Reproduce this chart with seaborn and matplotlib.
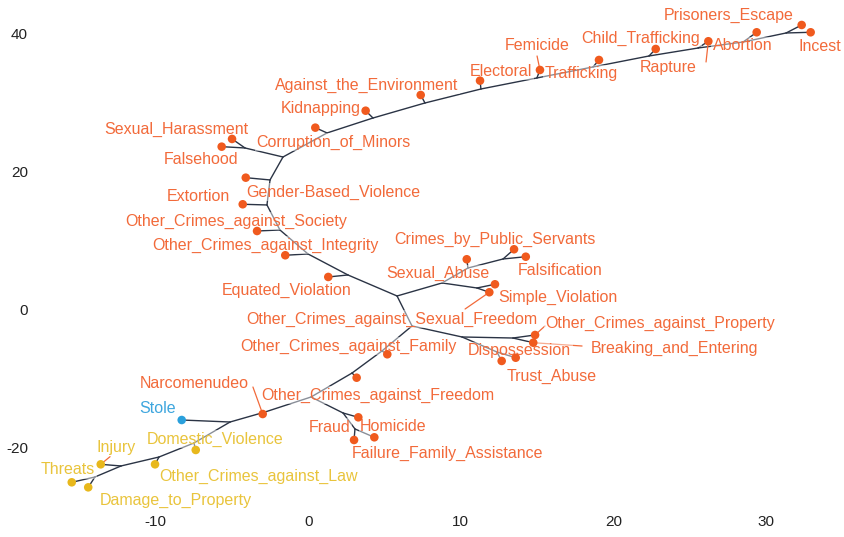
import matplotlib
matplotlib.use("Agg")
import matplotlib.pyplot as plt
import seaborn as sns
import pandas as pd

# leaves (tips of the tree): name, point position, label position, group
leaf_names = ["Prisoners_Escape", "Incest", "Abortion", "Rapture", "Child_Trafficking",
              "Trafficking", "Femicide", "Electoral", "Against_the_Environment", "Kidnapping",
              "Corruption_of_Minors", "Sexual_Harassment", "Falsehood", "Gender-Based_Violence",
              "Extortion", "Other_Crimes_against_Society", "Other_Crimes_against_Integrity",
              "Equated_Violation", "Crimes_by_Public_Servants", "Falsification", "Sexual_Abuse",
              "Simple_Violation", "Other_Crimes_against_Sexual_Freedom",
              "Other_Crimes_against_Property", "Breaking_and_Entering", "Dispossession",
              "Trust_Abuse", "Other_Crimes_against_Family", "Other_Crimes_against_Freedom",
              "Narcomenudeo", "Homicide", "Fraud", "Failure_Family_Assistance", "Stole",
              "Domestic_Violence", "Other_Crimes_against_Law", "Injury", "Threats",
              "Damage_to_Property"]
leaf_x = [32.35, 32.94, 29.40, 26.23, 22.78, 19.06, 15.19, 11.26, 7.37, 3.76,
          0.46, -5.00, -5.68, -4.10, -4.30, -3.36, -1.51, 1.31, 13.49, 14.26,
          10.39, 12.24, 11.87, 14.87, 14.75, 12.68, 13.60, 5.18, 3.17, -2.99,
          3.28, 3.00, 4.33, -8.30, -7.38, -10.05, -13.61, -15.51, -14.43]
leaf_y = [41.29, 40.23, 40.23, 38.93, 37.81, 36.21, 34.76, 33.21, 31.13, 28.85,
          26.39, 24.75, 23.63, 19.13, 15.27, 11.39, 7.87, 4.72, 8.74, 7.66,
          7.29, 3.66, 2.50, -3.70, -4.82, -7.47, -7.00, -6.50, -9.90, -15.17,
          -15.65, -18.94, -18.55, -16.04, -20.39, -22.47, -22.47, -25.08, -25.81]
label_x = [27.59, 33.55, 28.47, 23.59, 21.81, 17.88, 14.99, 12.64, 3.81, 0.80,
           1.65, -8.68, -7.04, 1.65, -7.20, -4.70, -2.78, -1.40, 12.24, 16.54,
           8.47, 16.34, 5.45, 23.09, 24.01, 13.85, 15.98, 2.60, 4.57, -7.46,
           5.59, 1.42, 9.10, -9.89, -6.12, -3.26, -12.58, -15.76, -8.68]
label_y = [42.74, 38.10, 38.24, 35.05, 39.41, 34.18, 38.24, 34.58, 32.58, 29.10,
           24.31, 26.20, 21.70, 17.06, 16.47, 12.84, 9.36, 2.83, 10.23, 5.59,
           5.19, 1.81, -1.38, -1.96, -5.59, -6.02, -9.65, -5.30, -12.41, -10.81,
           -16.98, -17.13, -20.83, -14.30, -18.79, -24.17, -19.96, -23.29, -27.65]
leaf_group = ["A"] * 33 + ["B"] + ["C"] * 5

# internal nodes of the tree
node_names = ["n1", "n2", "n3", "n4", "n5", "n6", "n7", "n8", "n9", "n10", "n11", "n12",
              "n13", "n14", "n15", "n16", "n17", "n18", "n19", "n20", "n21", "n22", "n23",
              "n24", "n25", "n26", "n27", "n28", "n29", "n30", "n31", "n32", "n33", "n34",
              "n35", "n36", "n37"]
node_x = [-13.99, -12.28, -9.79, -7.50, -5.13, -2.84, 0.18, 2.28, 3.06, 2.87, 4.83, 6.80,
          10.08, 13.42, 12.37, 5.82, 8.77, 11.06, 10.47, 12.77, 2.60, -0.02, -1.86,
          -2.71, -2.51, -1.66, -4.15, 1.23, 4.24, 7.65, 11.32, 14.99, 18.67, 22.34,
          25.56, 28.51, 31.33]
node_y = [-24.31, -22.71, -21.41, -19.38, -16.33, -14.88, -12.70, -15.02, -17.34, -9.22,
          -6.02, -2.39, -3.99, -4.14, -6.17, 1.96, 3.85, 3.12, 6.02, 7.33, 5.01, 8.06,
          11.54, 15.17, 18.80, 22.13, 23.44, 25.62, 27.79, 29.97, 32.00, 33.60, 35.20,
          36.79, 37.95, 38.82, 40.13]

edge_from = ["n1", "n1", "n1", "n2", "n2", "n3", "n3", "n4", "n4", "n5", "n5", "n6",
             "n6", "n7", "n8", "n8", "n9", "n9", "n7", "n10", "n10", "n11", "n11", "n12",
             "n13", "n14", "n14", "n13", "n15", "n15", "n12", "n16", "n17", "n18", "n18",
             "n17", "n19", "n19", "n20", "n20", "n16", "n21", "n21", "n22", "n22", "n23",
             "n23", "n24", "n24", "n25", "n25", "n26", "n27", "n27", "n26", "n28", "n28",
             "n29", "n29", "n30", "n30", "n31", "n31", "n32", "n32", "n33", "n33", "n34",
             "n34", "n35", "n35", "n36", "n36", "n37", "n37"]
edge_to = ["Threats", "Damage_to_Property", "n2", "Injury", "n3", "Other_Crimes_against_Law",
           "n4", "Domestic_Violence", "n5", "Stole", "n6", "Narcomenudeo", "n7", "n8",
           "Homicide", "n9", "Fraud", "Failure_Family_Assistance", "n10",
           "Other_Crimes_against_Freedom", "n11", "Other_Crimes_against_Family", "n12",
           "n13", "n14", "Other_Crimes_against_Property", "Breaking_and_Entering", "n15",
           "Dispossession", "Trust_Abuse", "n16", "n17", "n18", "Simple_Violation",
           "Other_Crimes_against_Sexual_Freedom", "n19", "Sexual_Abuse", "n20",
           "Crimes_by_Public_Servants", "Falsification", "n21", "Equated_Violation", "n22",
           "Other_Crimes_against_Integrity", "n23", "Other_Crimes_against_Society", "n24",
           "Extortion", "n25", "Gender-Based_Violence", "n26", "n27", "Sexual_Harassment",
           "Falsehood", "n28", "Corruption_of_Minors", "n29", "Kidnapping", "n30",
           "Against_the_Environment", "n31", "Electoral", "n32", "Femicide", "n33",
           "Trafficking", "n34", "Child_Trafficking", "n35", "Rapture", "n36", "Abortion",
           "n37", "Prisoners_Escape", "Incest"]

# label connector segments (label end)
conn_names = ["Femicide", "Rapture", "Other_Crimes_against_Sexual_Freedom",
              "Other_Crimes_against_Property", "Breaking_and_Entering", "Narcomenudeo", "Injury"]
conn_x = [15.00, 26.08, 10.28, 15.52, 17.95, -3.63, -13.00]
conn_y = [36.79, 35.92, 0.07, -2.39, -5.30, -11.25, -21.36]

point_colors = {"A": "#F05A1E", "B": "#2AA0DC", "C": "#E8B81C"}
text_colors = {"A": "#F26A3A", "B": "#3EA6DE", "C": "#E9C43C"}

leaves = pd.DataFrame({"name": leaf_names, "x": leaf_x, "y": leaf_y,
                       "lx": label_x, "ly": label_y, "group": leaf_group})
pos = {n: (x, y) for n, x, y in zip(leaf_names, leaf_x, leaf_y)}
pos.update({n: (x, y) for n, x, y in zip(node_names, node_x, node_y)})

sns.set_theme(style="white")
plt.rcParams['font.family'] = ['Liberation Sans', 'DejaVu Sans']
plt.rcParams['axes.unicode_minus'] = False

fig = plt.figure(figsize=(8.45, 5.37), dpi=100)
ax = fig.add_axes([0.04142, 0.05400, 0.95621, 0.94041])

for a, b in zip(edge_from, edge_to):
    ax.plot([pos[a][0], pos[b][0]], [pos[a][1], pos[b][1]],
            color="#2B3445", lw=1.0, zorder=1, solid_capstyle="round")

for n, cx, cy in zip(conn_names, conn_x, conn_y):
    ax.plot([cx, pos[n][0]], [cy, pos[n][1]], color="#F26A3A", lw=0.9, zorder=1)

for _, r in leaves.iterrows():
    ax.text(r["lx"], r["ly"], r["name"], color=text_colors[r["group"]], fontsize=11.5,
            ha="center", va="center", zorder=2,
            bbox=dict(boxstyle="square,pad=0.1", fc="white", ec="none", alpha=0.45))

sns.scatterplot(data=leaves, x="x", y="y", hue="group", palette=point_colors,
                s=38, edgecolor="none", legend=False, zorder=3, ax=ax)

ax.set_xlim(-17.92, 35.06)
ax.set_ylim(-28.81, 44.48)
ax.set_xticks([-10, 0, 10, 20, 30])
ax.set_yticks([-20, 0, 20, 40])
ax.tick_params(length=0, labelsize=11, colors="#222222", pad=5)
ax.set_xlabel("")
ax.set_ylabel("")
for s in ax.spines.values():
    s.set_visible(False)

fig.savefig("out.png", dpi=100)
